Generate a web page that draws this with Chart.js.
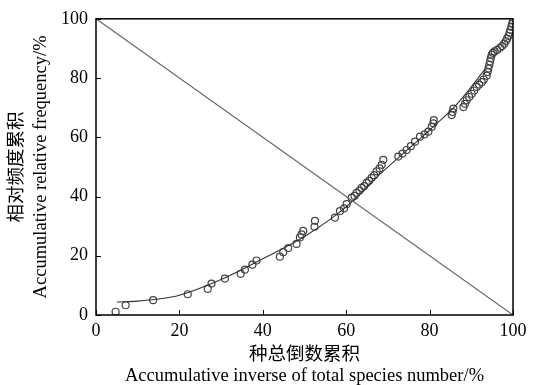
<!DOCTYPE html>
<html><head><meta charset="utf-8">
<script src="https://cdn.jsdelivr.net/npm/chart.js@4.4.0/dist/chart.umd.min.js"></script>
<style>html,body{margin:0;padding:0;background:#fff}#wrap{width:542px;height:385px}</style>
</head><body><div id="wrap"><canvas id="c" width="542" height="385"></canvas></div>
<script>
const xTicks = [0, 20, 40, 60, 80, 100];
const yTicks = [0, 20, 40, 60, 80, 100];
const obsX = [4.7,7.1,13.7,22,26.8,27.7,30.9,34.7,35.7,37.5,38.5,44.1,44.9,46.1,48.1,48.9,49.7,49.3,52.4,52.5,57.3,58.5,59.5,60.1,61.3,62.0,62.5,63.2,63.7,64.3,64.9,65.5,66.1,66.7,67.3,68.0,68.5,68.9,72.5,73.5,74.5,75.5,76.5,77.7,78.8,79.7,80.5,80.9,81,85.3,85.5,85.7,88.1,88.5,88.9,89.5,90.1,90.7,91.3,91.9,92.5,93,93.7,93.9,94.1,94.3,94.5,94.7,94.9,95.2,95.6,96.2,96.9,97.4,97.9,98.3,98.6,98.9,99.2,99.4,99.6,99.8,100];
const obsY = [1.1,3.3,5.0,7.0,8.8,10.6,12.3,13.9,15.3,17,18.4,19.7,21.2,22.6,24,26.2,28.4,27.2,29.8,31.8,32.9,35.1,36,37.4,39.6,40.2,41.2,42,42.9,43.5,44.6,45.3,46.3,47.2,48.5,49.5,50.7,52.4,53.5,54.5,55.7,57,58.5,60.2,61,61.9,63.5,64.7,65.8,67.5,68.5,69.7,70.2,71.3,72.5,73.6,74.7,75.8,77,77.8,78.6,79.5,80.8,82,83.2,84.4,85.6,86.8,87.9,88.5,89,89.5,90.2,90.8,91.6,92.5,93.3,94.2,95.3,96.3,97.3,98.3,99.3];
const fitX = [5,10,15,20,30,40,50,60,68,80,87,93.3];
const fitY = [4.4,4.7,5.4,6.7,12,19,26.5,36.5,47.4,62.4,71.9,83];
const refX = [0, 100];
const refY = [100, 0];

const pts = (xs, ys) => xs.map((x, i) => ({x, y: ys[i]}));
const serif = "'Liberation Serif','Times New Roman',serif";
const cjkTitle = "'Liberation Serif','Noto Sans CJK SC',serif";

const frame = {
  id: 'frame',
  afterDraw(chart) {
    const {ctx, chartArea: a, scales} = chart;
    ctx.save();
    ctx.strokeStyle = '#000';
    ctx.lineWidth = 1.5;
    ctx.strokeRect(a.left, a.top, a.right - a.left, a.bottom - a.top);
    ctx.lineWidth = 1;
    ctx.beginPath();
    xTicks.forEach(v => { const px = Math.round(scales.x.getPixelForValue(v)) + 0.5; ctx.moveTo(px, a.bottom); ctx.lineTo(px, a.bottom - 5); });
    yTicks.forEach(v => { const py = Math.round(scales.y.getPixelForValue(v)) + 0.5; ctx.moveTo(a.left, py); ctx.lineTo(a.left + 5, py); });
    ctx.stroke();
    ctx.restore();
  }
};

new Chart(document.getElementById('c'), {
  type: 'scatter',
  data: {
    datasets: [
      { data: pts(refX, refY), showLine: true, borderColor: '#666', borderWidth: 1.1, pointRadius: 0 },
      { data: pts(fitX, fitY), showLine: true, borderColor: '#333', borderWidth: 1.1, pointRadius: 0, cubicInterpolationMode: 'monotone' },
      { data: pts(obsX, obsY), showLine: false, pointStyle: 'circle', pointRadius: 3.5, borderColor: '#444', borderWidth: 1.2, backgroundColor: 'rgba(0,0,0,0)' }
    ]
  },
  options: {
    responsive: false, animation: false,
    layout: { padding: { left: 0, right: 29, top: 16, bottom: 0 } },
    plugins: { legend: { display: false }, tooltip: { enabled: false } },
    scales: {
      x: {
        type: 'linear', min: 0, max: 100,
        afterBuildTicks: s => { s.ticks = xTicks.map(v => ({value: v})); },
        afterFit: s => { s.height = 70; },
        grid: { display: false, drawTicks: false },
        border: { display: false },
        ticks: { color: '#000', font: { family: serif, size: 18 }, padding: 5, maxRotation: 0 },
        title: { display: true, text: ['种总倒数累积', 'Accumulative inverse of total species number/%'], color: '#000', font: { family: cjkTitle, size: 18.5, lineHeight: 1.15 }, padding: { top: 0, bottom: -2 } }
      },
      y: {
        type: 'linear', min: 0, max: 100,
        afterBuildTicks: s => { s.ticks = yTicks.map(v => ({value: v})); },
        afterFit: s => { s.width = 96; },
        grid: { display: false, drawTicks: false },
        border: { display: false },
        ticks: { color: '#000', font: { family: serif, size: 18 }, padding: 8 },
        title: { display: true, text: ['相对频度累积', 'Accumulative relative frequency/%'], color: '#000', font: { family: cjkTitle, size: 18.5, lineHeight: 1.25 }, padding: { top: 6, bottom: 0 } }
      }
    }
  },
  plugins: [frame]
});
</script></body></html>
